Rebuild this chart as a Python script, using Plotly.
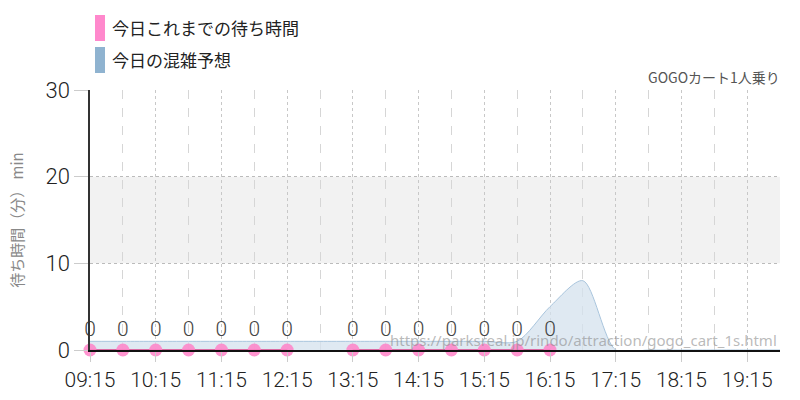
import plotly.graph_objects as go

# today's actual waits (None = no record at that time)
wait_times = ["09:15", "09:45", "10:15", "10:45", "11:15", "11:45", "12:15", "12:45",
              "13:15", "13:45", "14:15", "14:45", "15:15", "15:45", "16:15"]
wait_values = [0, 0, 0, 0, 0, 0, 0, None, 0, 0, 0, 0, 0, 0, 0]

# today's congestion forecast
fc_times = ["09:15", "09:45", "10:15", "10:45", "11:15", "11:45", "12:15", "12:45",
            "13:15", "13:45", "14:15", "14:45", "15:15", "15:45", "16:15", "16:45",
            "17:15", "17:45", "18:15", "18:45", "19:15", "19:45"]
fc_values = [1, 1, 1, 1, 1, 1, 1, 1, 1, 1, 1, 1, 1, 1, 5, 8, 0, 0, 0, 0, 0, 0]

hour_ticks = ["09:15", "10:15", "11:15", "12:15", "13:15", "14:15", "15:15",
              "16:15", "17:15", "18:15", "19:15"]

title_text = "GOGOカート1人乗り"
legend_items = [("今日これまでの待ち時間", "#ff88cc"), ("今日の混雑予想", "#8fb3d0")]
source_url = "https://parksreal.jp/rindo/attraction/gogo_cart_1s.html"

day = "2024-01-01 "
cond = "Roboto, sans-serif"
jp = "Noto Sans CJK JP, sans-serif"

fig = go.Figure()

fig.add_trace(go.Scatter(
    x=[day + t for t in fc_times], y=fc_values,
    mode="lines", line=dict(color="#a9c5dd", width=1, shape="spline", smoothing=0.8),
    fill="tozeroy", fillcolor="rgba(212,226,238,0.75)",
    hoverinfo="skip", showlegend=False
))

fig.add_trace(go.Scatter(
    x=[day + t for t in wait_times], y=wait_values,
    mode="lines+markers+text",
    line=dict(color="#d9408a", width=1.5),
    marker=dict(color="rgba(255,130,200,0.85)", size=13),
    text=["" if v is None else str(v) for v in wait_values],
    textposition="top center",
    textfont=dict(family=cond, size=21, color="#444", weight=300),
    showlegend=False, cliponaxis=False
))

fig.update_layout(
    width=800, height=400,
    margin=dict(l=90, r=20, t=90, b=50),
    plot_bgcolor="white", paper_bgcolor="white",
    showlegend=False,
    xaxis=dict(
        type="date", automargin=False,
        range=[day + "09:15", day + "19:45"],
        tickvals=[day + t for t in hour_ticks], ticktext=hour_ticks,
        tickfont=dict(family=cond, size=21, color="#222", weight=300),
        ticks="outside", ticklen=10, tickcolor="#ccc",
        showgrid=True, gridcolor="#c8c8c8", griddash="dot", gridwidth=1,
        minor=dict(dtick=60 * 60 * 1000, tick0=day + "09:45", showgrid=True,
                   gridcolor="#d6d6d6", griddash="dash", gridwidth=1),
        showline=True, linecolor="#111", linewidth=1.5,
        zeroline=False, fixedrange=True,
    ),
    yaxis=dict(
        range=[0, 30], tickvals=[0, 10, 20, 30], automargin=False,
        tickfont=dict(family=cond, size=22, color="#222", weight=300),
        ticks="outside", ticklen=14, tickcolor="#ccc",
        showgrid=True, gridcolor="#bbb", griddash="dot",
        showline=True, linecolor="#333", linewidth=1.5,
        zeroline=False, fixedrange=True,
        title=dict(text="待ち時間（分） min", font=dict(family=jp, size=15, color="#888"),
                   standoff=18),
    ),
)

# plot area: paper x 0..1 -> px 90..780, paper y 0..1 -> px 350..90
def px_x(p):
    return (p - 90) / 690

def px_y(p):
    return (350 - p) / 260

# 10-20 min band
fig.add_shape(type="rect", xref="paper", x0=0, x1=1, yref="y", y0=10, y1=20,
              fillcolor="#f2f2f2", line_width=0, layer="below")

# hand-made legend
for i, (name, col) in enumerate(legend_items):
    y_top = 15 + i * 32
    fig.add_shape(type="rect", xref="paper", yref="paper",
                  x0=px_x(95), x1=px_x(105), y0=px_y(y_top + 26), y1=px_y(y_top),
                  fillcolor=col, line_width=0)
    fig.add_annotation(xref="paper", yref="paper", x=px_x(110), y=px_y(y_top + 13),
                       xanchor="left", yanchor="middle", showarrow=False,
                       text=name, font=dict(family=jp, size=17, color="#222"))

fig.add_annotation(xref="paper", yref="paper", x=px_x(782), y=px_y(77),
                   xanchor="right", yanchor="middle", showarrow=False,
                   text=title_text, font=dict(family=jp, size=14, color="#555"))

fig.add_annotation(xref="paper", yref="paper", x=px_x(779), y=px_y(340),
                   xanchor="right", yanchor="middle", showarrow=False,
                   text=source_url, font=dict(family="Noto Sans, sans-serif", size=15,
                                              color="rgba(140,140,140,0.6)"))

# drop the default 8px page margin so the figure sits at the window's corner
fig.write_html("out.html", config={"displayModeBar": False},
               post_script="document.body.style.margin='0px';")
